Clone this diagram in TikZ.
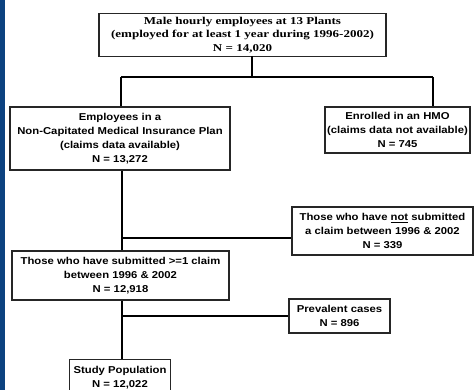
\documentclass[tikz,border=0pt]{standalone}
\usepackage{fontspec}
\setmainfont{Liberation Sans}[FakeStretch=1.13]
\newfontfamily\serifb{Liberation Serif}[FakeStretch=1.24]
\definecolor{bandblue}{RGB}{12,66,128}
\tikzset{
  box/.style={draw=black!85, line width=1.2pt, fill=white, align=center, inner sep=0pt,
    font=\fontsize{10}{13.8}\selectfont\bfseries},
  link/.style={line width=1.8pt, black},
}
\begin{document}
\begin{tikzpicture}[x=1pt,y=-1pt]
\useasboundingbox (0,0) rectangle (476,390);
\clip (0,0) rectangle (476,390);
\fill[white] (0,0) rectangle (476,390);
\fill[bandblue] (0,0) rectangle (5,390);
\node[box, minimum width=287pt, minimum height=43pt, font=\serifb\fontsize{10.5}{13.5}\selectfont\bfseries] (top) at (242.5,35)
  {Male hourly employees at 13 Plants\\(employed for at least 1 year during 1996-2002)\\N = 14,020};
\node[box, minimum width=220pt, minimum height=63pt] (ncap) at (120,138.5)
  {Employees in a\\Non-Capitated Medical Insurance Plan\\(claims data available)\\N = 13,272};
\node[box, minimum width=145pt, minimum height=46pt] (hmo) at (397.5,130)
  {Enrolled in an HMO\\(claims data not available)\\N = 745};
\node[box, minimum width=181pt, minimum height=48pt] (nosub) at (382.5,231)
  {Those who have \underline{not} submitted\\a claim between 1996 \& 2002\\N = 339};
\node[box, minimum width=217pt, minimum height=49pt] (sub) at (120.5,275.5)
  {Those who have submitted >=1 claim\\between 1996 \& 2002\\N = 12,918};
\node[box, minimum width=101pt, minimum height=34pt] (prev) at (339.5,316)
  {Prevalent cases\\N = 896};
\node[box, minimum width=101pt, minimum height=36pt, anchor=north] (study) at (120,359)
  {Study Population\\N = 12,022};
\coordinate (t0) at (252,56);
\coordinate (tj) at (252,77);
\coordinate (tl) at (121,77);
\coordinate (tr) at (433,77);
\draw[link] (t0) -- (tj);
\draw[link] (tl) -- (tr);
\draw[link] (tl) -- (tl |- ncap.north);
\draw[link] (tr) -- (tr |- hmo.north);
\draw[link] (ncap.south -| 122,0) -- (sub.north -| 122,0);
\draw[link] (122,238) -- (nosub.west |- 0,238);
\draw[link] (sub.south -| 122,0) -- (study.north -| 122,0);
\draw[link] (122,316) -- (prev.west);
\end{tikzpicture}
\end{document}
